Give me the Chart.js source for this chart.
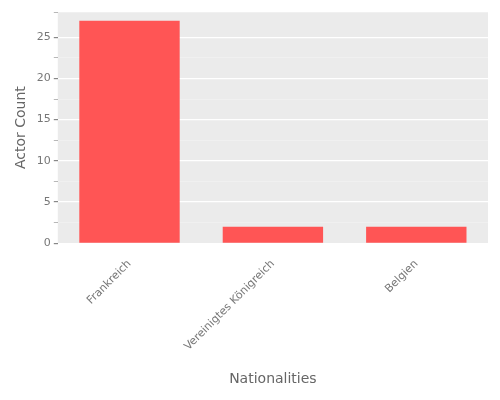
<!DOCTYPE html><html><head><meta charset="utf-8"><script src="https://cdn.jsdelivr.net/npm/chart.js"></script>
<style>body{margin:0;background:#fff}#w{width:500px;height:400px}</style></head><body><div id="w"><canvas id="c"></canvas></div>
<script>
const categories=["Frankreich","Vereinigtes Königreich","Belgien"];
const counts=[27,2,2];
const bg={id:'bg',beforeDraw(ch){const a=ch.chartArea,x=ch.ctx;x.save();x.fillStyle='#ebebeb';x.fillRect(a.left,a.top,a.right-a.left,a.bottom-a.top);x.restore();}};
Chart.defaults.font.family="DejaVu Sans";
new Chart(document.getElementById('c'),{type:'bar',data:{labels:categories,datasets:[{data:counts,backgroundColor:'#ff5555',barPercentage:0.7,categoryPercentage:1}]},
options:{responsive:true,maintainAspectRatio:false,animation:false,layout:{padding:{top:12,right:12,left:9,bottom:8}},
plugins:{legend:{display:false},tooltip:{enabled:false}},
scales:{x:{grid:{display:false},border:{display:false},ticks:{color:'#777',font:{size:11},maxRotation:45,minRotation:45,padding:6},title:{display:true,text:'Nationalities',color:'#666',font:{size:14},padding:{top:12}}},
y:{min:0,max:28.05,grid:{color:c=>c.tick&&c.tick.value%5===0?'#fff':'#f3f3f3',lineWidth:c=>c.tick&&c.tick.value%5===0?1.2:0.6,tickColor:'#888',tickLength:4},border:{display:false},ticks:{stepSize:2.5,color:'#777',font:{size:11},callback:v=>v%5===0?v:''},title:{display:true,text:'Actor Count',color:'#666',font:{size:14}}}}},plugins:[bg]});
</script></body></html>
